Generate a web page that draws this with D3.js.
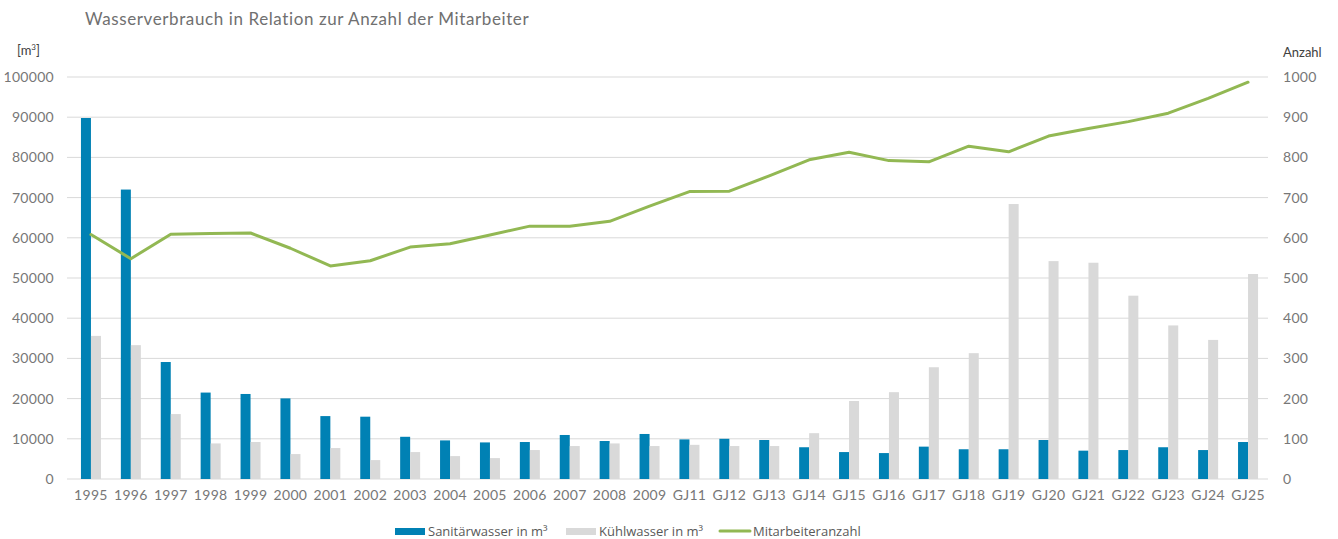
<!DOCTYPE html>
<html>
<head>
<meta charset="utf-8">
<script src="https://cdn.jsdelivr.net/npm/d3@7"></script>
<style>
  body { margin: 0; background: #fff; }
  svg text { font-family: Lato, "Open Sans", sans-serif; }
</style>
</head>
<body>
<div id="chart"></div>
<script>
const categories = ["1995", "1996", "1997", "1998", "1999", "2000", "2001", "2002", "2003", "2004",
    "2005", "2006", "2007", "2008", "2009", "GJ11", "GJ12", "GJ13", "GJ14", "GJ15",
    "GJ16", "GJ17", "GJ18", "GJ19", "GJ20", "GJ21", "GJ22", "GJ23", "GJ24", "GJ25"]

const sanitaer = [89800, 72000, 29100, 21500, 21150, 20050, 15650, 15500, 10500, 9600,
    9100, 9200, 10950, 9450, 11200, 9850, 10000, 9700, 7900, 6700,
    6450, 8050, 7400, 7400, 9700, 7050, 7200, 7900, 7200, 9200]

const kuehl = [35600, 33300, 16150, 8850, 9200, 6200, 7700, 4700, 6700, 5700,
    5200, 7200, 8200, 8850, 8200, 8500, 8200, 8200, 11400, 19400,
    21600, 27800, 31300, 68400, 54200, 53800, 45600, 38200, 34600, 51000]

const mitarbeiter = [608, 548, 609, 611, 612, 574, 530, 543, 577, 585,
    607, 629, 629, 641, 679, 715, 716, 754, 794, 813,
    792, 789, 828, 814, 853, 872, 889, 910, 947, 987]

const leftTicks = [0, 10000, 20000, 30000, 40000, 50000, 60000, 70000, 80000, 90000, 100000]
const rightTicks = [0, 100, 200, 300, 400, 500, 600, 700, 800, 900, 1000]

const blue = "#0081b4", grey = "#d9d9d9", green = "#92b853"
const W = 1338, H = 539
const margin = { top: 77, right: 70, bottom: 60, left: 71 }
const innerW = W - margin.left - margin.right
const innerH = H - margin.top - margin.bottom

const svg = d3.select("#chart").append("svg")
    .attr("width", W).attr("height", H)

const g = svg.append("g").attr("transform", `translate(${margin.left},${margin.top})`)

const x = d3.scaleBand().domain(categories).range([0, innerW]).padding(0)
const sub = d3.scaleBand().domain(["s", "k"]).range([x.bandwidth() / 2 - 10, x.bandwidth() / 2 + 10])
const yL = d3.scaleLinear().domain([0, 100000]).range([innerH, 0])
const yR = d3.scaleLinear().domain([0, 1000]).range([innerH, 0])

// gridlines
g.append("g").selectAll("line").data(leftTicks).join("line")
    .attr("x1", -4).attr("x2", innerW)
    .attr("y1", d => yL(d)).attr("y2", d => yL(d))
    .attr("stroke", "#d9d9d9").attr("stroke-width", 1)

// axis labels
const tickStyle = sel => sel.selectAll("text")
    .attr("fill", "#777")
    .style("font-size", "14px")
    .style("letter-spacing", "0.3px")

const axL = g.append("g").call(d3.axisLeft(yL).tickValues(leftTicks).tickFormat(d3.format("d")).tickSize(0).tickPadding(17))
axL.select(".domain").remove()
tickStyle(axL)

const axR = g.append("g").attr("transform", `translate(${innerW},0)`)
    .call(d3.axisRight(yR).tickValues(rightTicks).tickFormat(d3.format("d")).tickSize(0).tickPadding(15))
axR.select(".domain").remove()
tickStyle(axR)

const axB = g.append("g").attr("transform", `translate(0,${innerH})`)
    .call(d3.axisBottom(x).tickSize(0).tickPadding(11))
axB.select(".domain").remove()
tickStyle(axB)

// bars
g.append("g").selectAll("rect").data(sanitaer).join("rect")
    .attr("x", (d, i) => x(categories[i]) + sub("s"))
    .attr("y", d => yL(d))
    .attr("width", sub.bandwidth())
    .attr("height", d => innerH - yL(d))
    .attr("fill", blue)

g.append("g").selectAll("rect").data(kuehl).join("rect")
    .attr("x", (d, i) => x(categories[i]) + sub("k"))
    .attr("y", d => yL(d))
    .attr("width", sub.bandwidth())
    .attr("height", d => innerH - yL(d))
    .attr("fill", grey)

// line
const line = d3.line()
    .x((d, i) => x(categories[i]) + x.bandwidth() / 2)
    .y(d => yR(d))
g.append("path").datum(mitarbeiter)
    .attr("d", line)
    .attr("fill", "none")
    .attr("stroke", green)
    .attr("stroke-width", 3)
    .attr("stroke-linecap", "round")
    .attr("stroke-linejoin", "round")

// titles
svg.append("text").attr("x", 85).attr("y", 25)
    .attr("fill", "#707070").style("font-size", "17px").style("letter-spacing", "0.6px")
    .text("Wasserverbrauch in Relation zur Anzahl der Mitarbeiter")

const unit = svg.append("text").attr("x", 17).attr("y", 55)
    .attr("fill", "#404040").style("font-size", "13px")
unit.append("tspan").text("[m")
unit.append("tspan").attr("dy", -5).style("font-size", "8px").text("3")
unit.append("tspan").attr("dy", 5).text("]")

svg.append("text").attr("x", 1283).attr("y", 57)
    .attr("fill", "#404040").style("font-size", "13px")
    .text("Anzahl")

// legend
const legend = svg.append("g").attr("transform", "translate(0,531)")
const items = [
    { label: "Sanitärwasser in m³", color: blue, type: "rect", x: 395 },
    { label: "Kühlwasser in m³", color: grey, type: "rect", x: 566 },
    { label: "Mitarbeiteranzahl", color: green, type: "line", x: 720 }
]
items.forEach(it => {
    if (it.type === "rect") {
        legend.append("rect").attr("x", it.x).attr("y", -3).attr("width", 30).attr("height", 7).attr("fill", it.color)
    } else {
        legend.append("line").attr("x1", it.x).attr("x2", it.x + 30).attr("y1", 0).attr("y2", 0)
            .attr("stroke", it.color).attr("stroke-width", 3).attr("stroke-linecap", "round")
    }
    legend.append("text").attr("x", it.x + 33).attr("y", 5)
        .attr("fill", "#595959").style("font-size", "13px")
        .style("font-family", "'Open Sans', sans-serif")
        .text(it.label)
})
</script>
</body>
</html>
